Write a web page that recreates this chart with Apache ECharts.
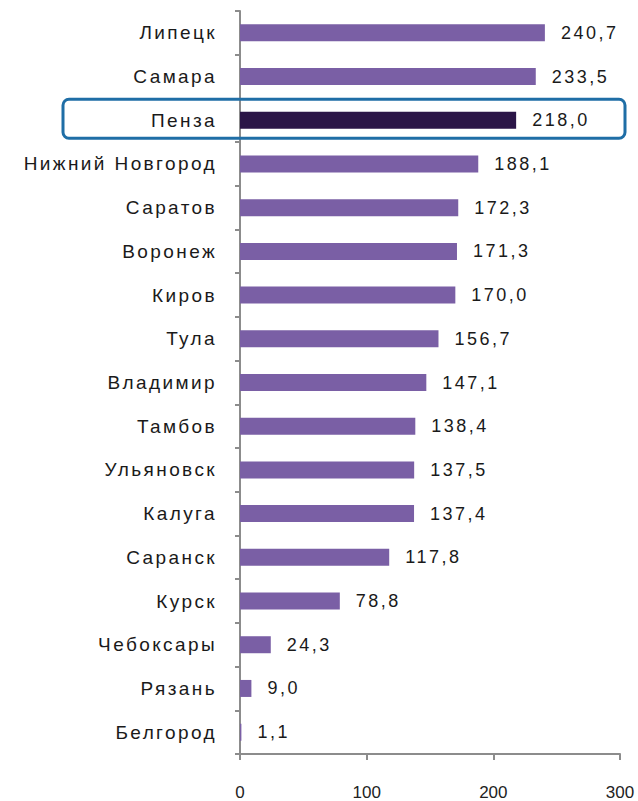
<!DOCTYPE html>
<html>
<head>
<meta charset="utf-8">
<script src="https://cdn.jsdelivr.net/npm/echarts@6/dist/echarts.min.js"></script>
<style>
  html, body { margin: 0; padding: 0; background: #ffffff; }
  #chart { width: 638px; height: 801px; }
  /* widen the label type a little */
  #chart svg text { letter-spacing: 2.5px; }
  #chart svg text[text-anchor="end"] { letter-spacing: 2.4px; }
  #chart svg text[text-anchor="middle"] { letter-spacing: 0; }
</style>
</head>
<body>
<div id="chart"></div>
<script>
// Regions, top to bottom
const regions = [
  'Липецк', 'Самара', 'Пенза', 'Нижний Новгород', 'Саратов', 'Воронеж',
  'Киров', 'Тула', 'Владимир', 'Тамбов', 'Ульяновск', 'Калуга',
  'Саранск', 'Курск', 'Чебоксары', 'Рязань', 'Белгород'
];
const values = [
  240.7, 233.5, 218.0, 188.1, 172.3, 171.3,
  170.0, 156.7, 147.1, 138.4, 137.5, 137.4,
  117.8, 78.8, 24.3, 9.0, 1.1
];
const xTicks = [0, 100, 200, 300];
const highlighted = 'Пенза';

const barColor = '#7a5fa5';
const highlightColor = '#2b1547';
const axisColor = '#8c8c8c';
const font = '"Liberation Sans", Arial, sans-serif';

const chart = echarts.init(document.getElementById('chart'), null, { renderer: 'svg' });

// category axis is inverted so that the first region sits at the top
const option = {
  animation: false,
  backgroundColor: '#ffffff',
  grid: { left: 240, right: 18, top: 11, bottom: 42, containLabel: false },
  xAxis: {
    type: 'value',
    min: xTicks[0],
    max: xTicks[xTicks.length - 1],
    interval: 100,
    splitLine: { show: false },
    axisLine: { show: true, lineStyle: { color: axisColor, width: 2 } },
    axisTick: { show: true, length: 6, lineStyle: { color: axisColor, width: 2 } },
    axisLabel: { margin: 30, color: '#222', fontFamily: font, fontSize: 17 }
  },
  yAxis: {
    type: 'category',
    inverse: true,
    data: regions,
    axisLine: { show: true, lineStyle: { color: axisColor, width: 2 } },
    axisTick: { show: true, length: 5, lineStyle: { color: axisColor, width: 2 } },
    axisLabel: { margin: 23, color: '#1a1a1a', fontFamily: font, fontSize: 19 }
  },
  series: [{
    type: 'bar',
    barWidth: 17,
    data: regions.map((r, i) => ({
      value: values[i],
      itemStyle: { color: r === highlighted ? highlightColor : barColor }
    })),
    label: {
      show: true,
      position: 'right',
      distance: 16,
      color: '#1a1a1a',
      fontFamily: font,
      fontSize: 18,
      formatter: p => p.value.toFixed(1).replace('.', ',')
    }
  }]
};

chart.setOption(option);

// Frame around the highlighted region row
const idx = regions.indexOf(highlighted);
const center = chart.convertToPixel({ yAxisIndex: 0 }, idx);
chart.setOption({
  graphic: [{
    type: 'rect',
    z: 100,
    shape: { x: 63, y: center - 21, width: 562, height: 39, r: 6 },
    style: { fill: 'none', stroke: '#1f6ea6', lineWidth: 3 }
  }]
});
</script>
</body>
</html>
